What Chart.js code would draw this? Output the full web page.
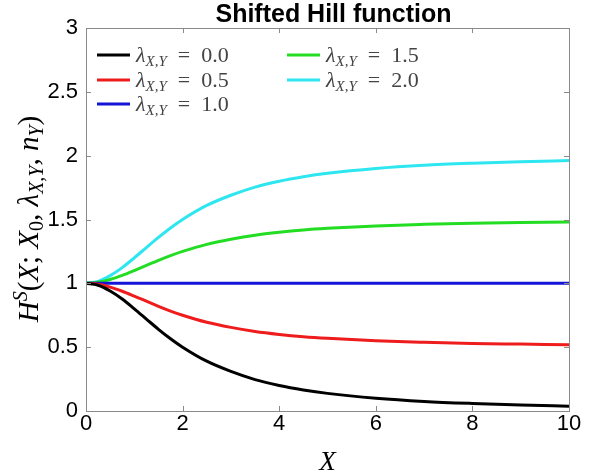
<!DOCTYPE html>
<html>
<head>
<meta charset="utf-8">
<script src="https://cdn.jsdelivr.net/npm/chart.js@4"></script>
<style>
  html, body { margin: 0; padding: 0; background: #fff; }
  #wrap { width: 599px; height: 476px; }
</style>
</head>
<body>
<div id="wrap"><canvas id="c" width="599" height="476"></canvas></div>
<script>
// values
const xs = [0, 0.25, 0.5, 0.75, 1, 1.25, 1.5, 1.75, 2, 2.5, 3, 3.5, 4, 4.5, 5, 6, 7, 8, 9, 10];
const lambda00 = [1.0, 0.985, 0.94, 0.877, 0.80, 0.72, 0.64, 0.566, 0.50, 0.39, 0.31, 0.246, 0.20, 0.165, 0.138, 0.10, 0.075, 0.059, 0.047, 0.038];
const lambda05 = [1.0, 0.992, 0.97, 0.938, 0.90, 0.86, 0.82, 0.783, 0.75, 0.695, 0.655, 0.623, 0.60, 0.582, 0.569, 0.55, 0.538, 0.529, 0.524, 0.519];
const lambda10 = [1, 1, 1, 1, 1, 1, 1, 1, 1, 1, 1, 1, 1, 1, 1, 1, 1, 1, 1, 1];
const lambda15 = [1.0, 1.008, 1.03, 1.062, 1.10, 1.14, 1.18, 1.217, 1.25, 1.305, 1.345, 1.377, 1.40, 1.418, 1.431, 1.45, 1.462, 1.471, 1.476, 1.481];
const lambda20 = [1.0, 1.015, 1.06, 1.123, 1.20, 1.28, 1.36, 1.434, 1.50, 1.61, 1.69, 1.754, 1.80, 1.835, 1.862, 1.90, 1.925, 1.941, 1.953, 1.962];
const seriesNames = ['0.0', '0.5', '1.0', '1.5', '2.0'];
const seriesColors = ['#000000', '#ee1c1c', '#1414d8', '#22dd22', '#2ee6f0'];
const xTicks = [0, 2, 4, 6, 8, 10];
const yTicks = [0, 0.5, 1, 1.5, 2, 2.5, 3];

const allSeries = [lambda00, lambda05, lambda10, lambda15, lambda20];

const datasets = allSeries.map((vals, i) => ({
  label: seriesNames[i],
  data: xs.map((x, j) => ({ x: x, y: vals[j] })),
  borderColor: seriesColors[i],
  borderWidth: 3,
  pointRadius: 0,
  cubicInterpolationMode: 'monotone',
  fill: false
}));

const SERIF = '"Liberation Serif", "DejaVu Serif", serif';
const SANS = '"Liberation Sans", Arial, sans-serif';

// draw a row of text pieces with sub/superscripts
function drawRich(ctx, parts, x, y, align) {
  let total = 0;
  parts.forEach(p => { ctx.font = p.font; total += ctx.measureText(p.t).width; });
  let cx = align === 'center' ? x - total / 2 : x;
  parts.forEach(p => {
    ctx.font = p.font;
    ctx.fillText(p.t, cx, y + (p.dy || 0));
    cx += ctx.measureText(p.t).width;
  });
}

const decorations = {
  id: 'decorations',
  afterDraw(chart) {
    const ctx = chart.ctx;
    const a = chart.chartArea;
    const xs_ = chart.scales.x, ys_ = chart.scales.y;
    ctx.save();

    // box + inward ticks
    ctx.strokeStyle = '#8a8a8a';
    ctx.lineWidth = 1;
    ctx.strokeRect(a.left + 0.5, a.top + 0.5, a.right - a.left, a.bottom - a.top);
    ctx.beginPath();
    xTicks.forEach(v => {
      const px = Math.round(xs_.getPixelForValue(v)) + 0.5;
      ctx.moveTo(px, a.bottom); ctx.lineTo(px, a.bottom - 5);
      ctx.moveTo(px, a.top); ctx.lineTo(px, a.top + 5);
    });
    yTicks.forEach(v => {
      const py = Math.round(ys_.getPixelForValue(v)) + 0.5;
      ctx.moveTo(a.left, py); ctx.lineTo(a.left + 5, py);
      ctx.moveTo(a.right, py); ctx.lineTo(a.right - 5, py);
    });
    ctx.stroke();

    ctx.fillStyle = '#000';
    ctx.textBaseline = 'alphabetic';

    // title
    ctx.font = 'bold 25px ' + SANS;
    ctx.textAlign = 'center';
    ctx.fillText('Shifted Hill function', (a.left + a.right) / 2 + 6, 22);

    // x axis title
    ctx.font = 'italic 27px ' + SERIF;
    ctx.fillText('X', (a.left + a.right) / 2, 470);

    // y axis title
    ctx.textAlign = 'left';
    ctx.translate(38, 219);
    ctx.rotate(-Math.PI / 2);
    const big = 'italic 29px ' + SERIF, up = '29px ' + SERIF;
    const sm = 'italic 20px ' + SERIF, smUp = '20px ' + SERIF;
    drawRich(ctx, [
      { t: 'H', font: big }, { t: 'S', font: sm, dy: -11 },
      { t: '(', font: up }, { t: 'X', font: big }, { t: '; ', font: up },
      { t: 'X', font: big }, { t: '0', font: smUp, dy: 5 }, { t: ', ', font: up },
      { t: 'λ', font: big }, { t: 'X,Y', font: sm, dy: 5 }, { t: ', ', font: up },
      { t: 'n', font: big }, { t: 'Y', font: sm, dy: 5 }, { t: ')', font: up }
    ], 0, 0, 'center');
    ctx.setTransform(1, 0, 0, 1, 0, 0);

    // legend
    const cols = [97, 287], rows = [55, 80, 104];
    const order = [[0, 0], [0, 1], [0, 2], [1, 0], [1, 1]];
    order.forEach((pos, i) => {
      const lx = cols[pos[0]], ly = rows[pos[1]];
      ctx.strokeStyle = seriesColors[i];
      ctx.lineWidth = 3;
      ctx.beginPath();
      ctx.moveTo(lx, ly); ctx.lineTo(lx + 33, ly);
      ctx.stroke();
      ctx.fillStyle = '#444';
      drawRich(ctx, [
        { t: 'λ', font: 'italic 22px ' + SERIF },
        { t: 'X,Y', font: 'italic 15px ' + SERIF, dy: 4 },
        { t: '\u2002=\u2002' + seriesNames[i], font: '22px ' + SERIF }
      ], lx + 39, ly + 7, 'left');
    });
    ctx.restore();
  }
};

new Chart(document.getElementById('c'), {
  type: 'line',
  data: { datasets: datasets },
  plugins: [decorations],
  options: {
    responsive: false,
    animation: false,
    layout: { padding: { top: 28, right: 30, left: 0, bottom: 0 } },
    plugins: { legend: { display: false }, title: { display: false }, tooltip: { enabled: false } },
    scales: {
      x: {
        type: 'linear', min: 0, max: 10,
        afterBuildTicks: s => { s.ticks = xTicks.map(v => ({ value: v })); },
        afterFit: s => { s.height = 65; },
        grid: { display: false, drawTicks: false },
        border: { display: false },
        ticks: { color: '#000', padding: 0, maxRotation: 0, font: { family: SANS, size: 22 }, callback: v => String(v) }
      },
      y: {
        type: 'linear', min: 0, max: 3,
        afterBuildTicks: s => { s.ticks = yTicks.map(v => ({ value: v })); },
        afterFit: s => { s.width = 86; },
        grid: { display: false, drawTicks: false },
        border: { display: false },
        ticks: { color: '#000', padding: 8, font: { family: SANS, size: 22 }, callback: v => String(v) }
      }
    }
  }
});
</script>
</body>
</html>
